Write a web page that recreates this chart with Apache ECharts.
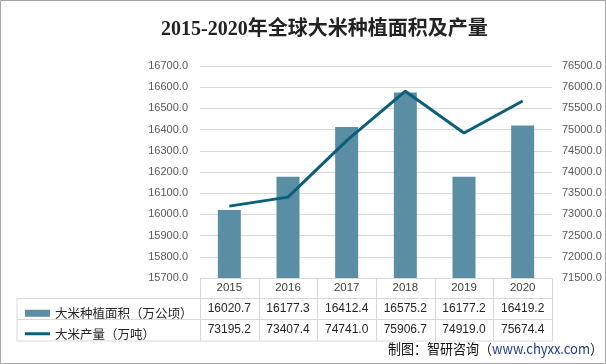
<!DOCTYPE html>
<html><head><meta charset="utf-8">
<script src="https://cdn.jsdelivr.net/npm/echarts@6/dist/echarts.min.js"></script>
<style>html,body{margin:0;padding:0;background:#fff}#c{width:606px;height:364px}</style>
</head><body><div id="c"></div>
<script>
var years = ['2015','2016','2017','2018','2019','2020'];
var areaValues = [16020.7, 16177.3, 16412.4, 16575.2, 16177.2, 16419.2];
var prodValues = [73195.2, 73407.4, 74741.0, 75906.7, 74919.0, 75674.4];
var areaName = '大米种植面积（万公顷）';
var prodName = '大米产量（万吨）';
var titleText = '2015-2020年全球大米种植面积及产量';
var sourcePrefix = '制图：智研咨询（';
var sourceUrl = 'www.chyxx.com';
var sourceSuffix = '）';

var GL = 200, GR = 552, GT = 66, GB = 278;
var R1 = 298.5, R2 = 319.5, R3 = 341;
var TL = 17;
var lineColor = '#d9d9d9';

var chart = echarts.init(document.getElementById('c'), null, {renderer:'canvas'});
var fmt = function(v){ return Number(v).toFixed(1); };

var graphics = [
  {type:'rect', shape:{x:0.5,y:0.5,width:605,height:363}, style:{fill:null, stroke:'#a6a6a6', lineWidth:1}, silent:true},
  {type:'line', shape:{x1:TL,y1:R1,x2:GR,y2:R1}, style:{stroke:lineColor,lineWidth:1}},
  {type:'line', shape:{x1:TL,y1:R2,x2:GR,y2:R2}, style:{stroke:lineColor,lineWidth:1}},
  {type:'line', shape:{x1:TL,y1:R3,x2:GR,y2:R3}, style:{stroke:lineColor,lineWidth:1}},
  {type:'line', shape:{x1:TL,y1:R1,x2:TL,y2:R3}, style:{stroke:lineColor,lineWidth:1}}
];
var cw = (GR - GL) / years.length;
for (var i = 0; i <= years.length; i++) {
  var x = Math.round(GL + i * cw) + 0.5;
  graphics.push({type:'line', shape:{x1:x,y1:GB,x2:x,y2:R3}, style:{stroke:lineColor,lineWidth:1}});
}
var ftFamily = '"Noto Sans CJK SC", sans-serif';
var ctx = document.createElement('canvas').getContext('2d');
ctx.font = '14px ' + ftFamily;
var ftW = ctx.measureText(sourcePrefix + sourceUrl + sourceSuffix).width;
var ftScale = 215 / ftW;
graphics.push({type:'text', x:388, y:342, scaleX:ftScale, originX:0, z:10,
  style:{text:'{a|' + sourcePrefix + '}{b|' + sourceUrl + '}{a|' + sourceSuffix + '}',
    fontSize:14, fontFamily:ftFamily,
    rich:{a:{fill:'#111', fontSize:14, fontFamily:ftFamily}, b:{fill:'#1f3d8c', fontSize:14, fontFamily:ftFamily}}}});

var labelFont = 'Liberation Sans';
chart.setOption({
  animation:false,
  title:{text:titleText, left:156, top:15, textStyle:{fontSize:20, fontWeight:'bold', color:'#222', fontFamily:'"Liberation Serif","Noto Sans CJK SC",serif'}},
  grid:{left:GL, right:606-GR, top:GT, bottom:364-GB},
  legend:{orient:'vertical', left:20, top:302, itemGap:8, itemWidth:25, itemHeight:7,
    textStyle:{fontSize:12.5, color:'#262626', fontFamily:'"Noto Sans CJK SC",sans-serif'},
    data:[{name:areaName, icon:'rect'}, {name:prodName, icon:'path://M0,0L25,0L25,3L0,3Z'}]},
  xAxis:[
    {type:'category', data:years, axisLine:{show:true, lineStyle:{color:lineColor}}, axisTick:{show:false},
     axisLabel:{margin:4, fontSize:11.5, color:'#404040', fontFamily:labelFont}},
    {type:'category', data:areaValues.map(fmt), position:'bottom', offset:21, axisLine:{show:false}, axisTick:{show:false},
     axisLabel:{margin:4, fontSize:12, color:'#262626', fontFamily:labelFont}},
    {type:'category', data:prodValues.map(fmt), position:'bottom', offset:42, axisLine:{show:false}, axisTick:{show:false},
     axisLabel:{margin:4, fontSize:12, color:'#262626', fontFamily:labelFont}}
  ],
  yAxis:[
    {type:'value', min:15700, max:16700, interval:100, axisLine:{show:false}, axisTick:{show:false},
     splitLine:{lineStyle:{color:lineColor}}, axisLabel:{margin:12, fontSize:11, color:'#595959', fontFamily:labelFont, formatter:fmt}},
    {type:'value', min:71500, max:76500, interval:500, axisLine:{show:false}, axisTick:{show:false},
     splitLine:{show:false}, axisLabel:{margin:10, fontSize:11, color:'#595959', fontFamily:labelFont, formatter:fmt}}
  ],
  series:[
    {name:areaName, type:'bar', data:areaValues, barWidth:23, itemStyle:{color:'#5a8ea4'}, xAxisIndex:0, yAxisIndex:0},
    {name:prodName, type:'line', data:prodValues, yAxisIndex:1, xAxisIndex:0, symbol:'none', lineStyle:{width:3, color:'#0b5f7b'}, itemStyle:{color:'#0b5f7b'}}
  ],
  graphic:graphics
});
</script></body></html>
